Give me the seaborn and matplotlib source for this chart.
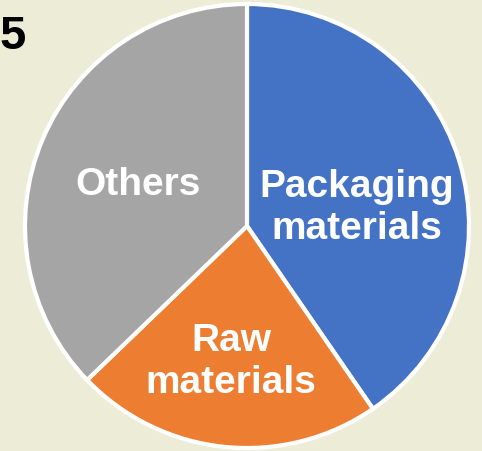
import matplotlib
matplotlib.use("Agg")
import matplotlib.pyplot as plt
import seaborn as sns

categories = ["Packaging\nmaterials", "Raw\nmaterials", "Others"]
shares = [40.4, 22.4, 37.2]
slice_colors = ["#4472C4", "#ED7D31", "#A5A5A5"]
panel_label = "5"

sns.set_style("white")
plt.rcParams["font.family"] = ["Liberation Sans", "DejaVu Sans"]

W, H = 482, 452
bg = "#EDEDD7"
fig = plt.figure(figsize=(W / 100, H / 100), dpi=100, facecolor=bg)
ax = fig.add_axes([0, 0, 1, 1])
ax.set_facecolor(bg)

cx, cy, r = 247, H - 227, 222
wedges, _ = ax.pie(
    shares,
    colors=slice_colors,
    startangle=90,
    counterclock=False,
    center=(cx, cy),
    radius=r,
    frame=True,
    wedgeprops=dict(edgecolor="white", linewidth=3),
)
ax.set_xlim(0, W)
ax.set_ylim(0, H)
ax.set_aspect("equal")
ax.axis("off")

label_pos = [(357, H - 208), (231, H - 362), (138, H - 185)]
for text, (x, y) in zip(categories, label_pos):
    ax.text(x, y, text, ha="center", va="center", color="white",
            fontsize=28, fontweight="bold", linespacing=1.22)

ax.text(-1, H - 37, panel_label, ha="left", va="center", color="black",
        fontsize=34, fontweight="bold")

fig.savefig("out.png", dpi=100, facecolor=bg)
